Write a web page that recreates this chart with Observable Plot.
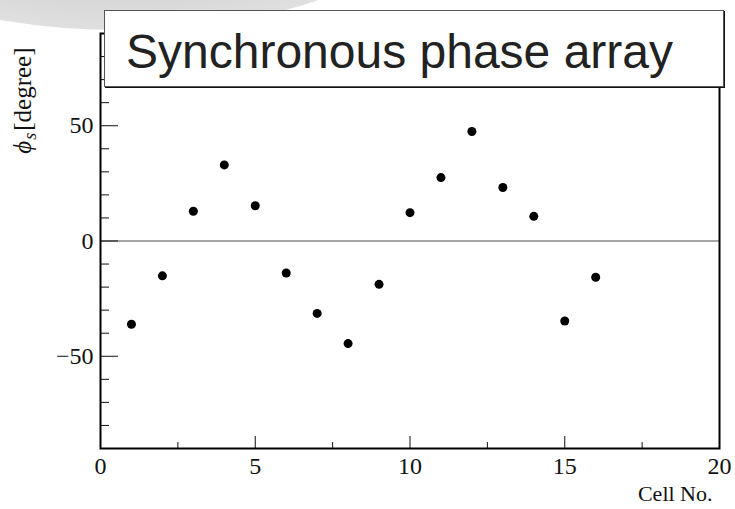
<!DOCTYPE html>
<html>
<head>
<meta charset="utf-8">
<script src="https://cdn.jsdelivr.net/npm/d3@7"></script>
<script src="https://cdn.jsdelivr.net/npm/@observablehq/plot@0.6"></script>
<style>
  html, body { margin: 0; padding: 0; background: #fff; }
  #wrap { position: relative; width: 735px; height: 509px; overflow: hidden; }
  #blob { position: absolute; left: -180px; top: -210px; width: 600px; height: 240px; border-radius: 50%;
          background: radial-gradient(ellipse at 50% 45%, #cacaca 0%, #d8d8d8 55%, #e6e6e6 85%, rgba(255,255,255,0) 100%); }
  #chart { position: absolute; left: 0; top: 0; }
  #chart svg text { font-family: "Liberation Serif", "Times New Roman", serif !important; }
  #title { position: absolute; left: 104px; top: 10px; width: 620px; height: 77px; background: #fff;
           border: 1px solid #555; box-shadow: 1px 1px 0 #111; overflow: hidden;
           font-family: "Liberation Sans", Arial, sans-serif; font-size: 48px; color: #222;
           line-height: 81px; padding-left: 21px; box-sizing: border-box; white-space: nowrap; }
</style>
</head>
<body>
<div id="wrap">
  <div id="blob"></div>
  <div id="chart"></div>
  <div id="title"></div>
</div>
<script>
const titleText = "Synchronous phase array";
const xLabel = "Cell No.";
const yLabelParts = ["ϕ", "s", "[degree]"];
const cells = [1, 2, 3, 4, 5, 6, 7, 8, 9, 10, 11, 12, 13, 14, 15, 16];
const phase = [-36.1, -15.1, 12.9, 33.0, 15.3, -13.9, -31.4, -44.5, -18.8, 12.3, 27.5, 47.5, 23.2, 10.7, -34.7, -15.7];
const xMajor = [0, 5, 10, 15, 20];
const xMinor = [2.5, 7.5, 12.5, 17.5];
const yMajor = [-50, 0, 50];
const yMinor = [-90, -80, -70, -60, -40, -30, -20, -10, 10, 20, 30, 40, 60, 70, 80];

const data = cells.map((c, i) => ({cell: c, phi: phase[i]}));
const yLabel = yLabelParts.join("");

const plot = Plot.plot({
  width: 735,
  height: 509,
  marginLeft: 100,
  marginRight: 16,
  marginTop: 33,
  marginBottom: 61,
  style: {background: "transparent", fontSize: "24px", color: "#111"},
  x: {domain: [0, 20], label: null},
  y: {domain: [-90, 90], label: null},
  marks: [
    Plot.ruleY([0], {stroke: "#888", strokeWidth: 1.5}),
    Plot.axisX({ticks: xMajor, tickSize: -12, text: null, label: null, stroke: "#111"}),
    Plot.axisX({ticks: xMinor, tickSize: -6, text: null, label: null, stroke: "#111"}),
    Plot.axisX({ticks: xMajor, tickSize: 0, tickPadding: 8, tickFormat: d3.format("d"), label: null, fontSize: 24, fill: "#111"}),
    Plot.axisY({ticks: yMajor, tickSize: -18, text: null, label: null, stroke: "#111"}),
    Plot.axisY({ticks: yMinor, tickSize: -9, text: null, label: null, stroke: "#111"}),
    Plot.axisY({ticks: yMajor, tickSize: 0, tickPadding: 7, tickFormat: d3.format("d"), label: null, fontSize: 24, fill: "#111"}),
    Plot.frame({stroke: "#000", strokeWidth: 2}),
    Plot.dot(data, {x: "cell", y: "phi", r: 4.5, fill: "#000", stroke: "none"}),
    Plot.text([xLabel], {frameAnchor: "bottom-right", textAnchor: "end", dx: -7, dy: 52, fontSize: 22, fill: "#111"}),
    Plot.text([yLabel], {frameAnchor: "top-left", rotate: -90, textAnchor: "end", dx: -87, dy: 14, fontSize: 25, fill: "#111"})
  ]
});
document.getElementById("chart").appendChild(plot);
document.getElementById("title").textContent = titleText;

// rich text for the y label (italic symbol with subscript)
d3.select(plot).selectAll("text").filter(function() { return this.textContent === yLabel; })
  .each(function() {
    const t = d3.select(this);
    t.text(null);
    t.append("tspan").attr("font-style", "italic").text(yLabelParts[0]);
    t.append("tspan").attr("font-style", "italic").attr("font-size", 18).attr("dy", 5).attr("dx", 1).text(yLabelParts[1]);
    t.append("tspan").attr("dy", -5).attr("dx", 2).text(yLabelParts[2]);
  });
</script>
</body>
</html>
